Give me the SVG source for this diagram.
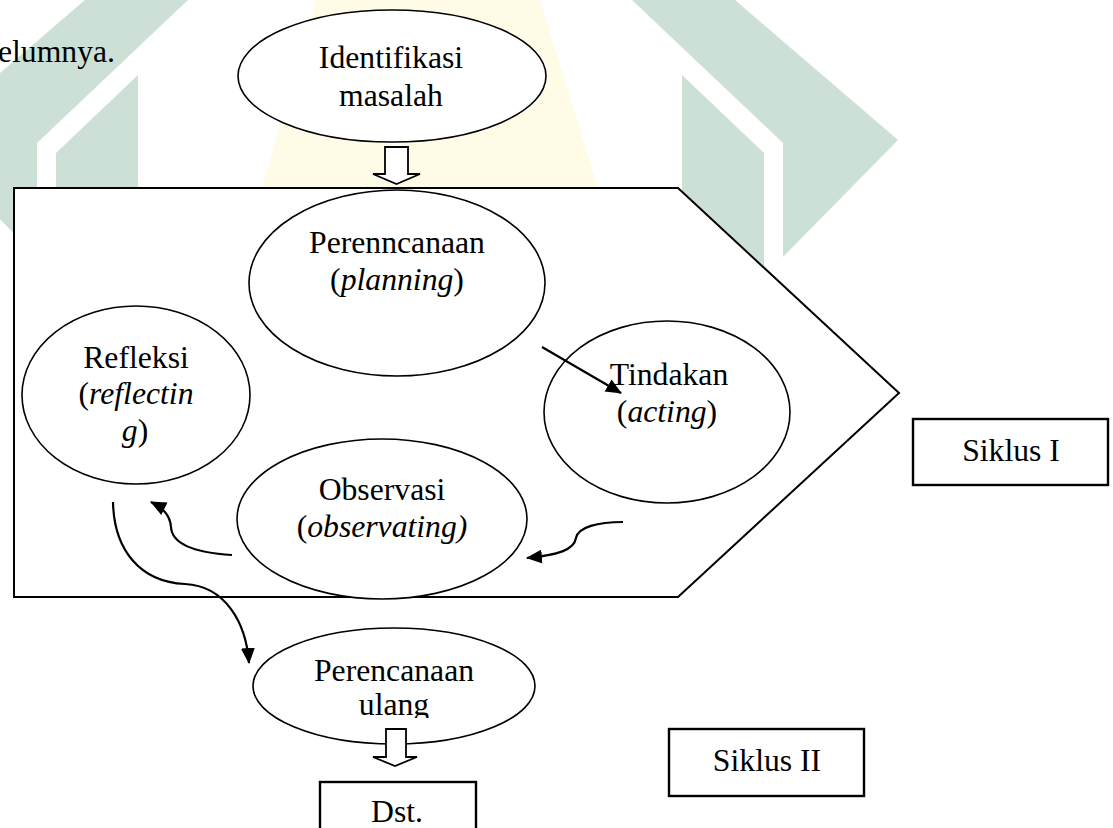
<svg xmlns="http://www.w3.org/2000/svg" width="1113" height="828" viewBox="0 0 1113 828">
<style>
.t{font-family:"Liberation Serif","Times New Roman",serif;font-size:31.7px;fill:#000;text-anchor:middle}
.i{font-style:italic}
.n{fill:#fff;stroke:#000;stroke-width:1.6}
.b{fill:#fff;stroke:#000;stroke-width:2.4}
.f{fill:#fff;stroke:#000;stroke-width:2}
.c{fill:none;stroke:#000;stroke-width:2.2}
.h{fill:#fff;stroke:#000;stroke-width:1.8}
.g{fill:#cde0d5}
.y{fill:#fefbe6}
</style>
<defs>
<marker id="ah" markerUnits="userSpaceOnUse" markerWidth="16" markerHeight="14" refX="15" refY="7" orient="auto" viewBox="0 0 16 14"><path d="M0,0 L16,7 L0,14 z" fill="#000"/></marker>
<clipPath id="clipUlang"><rect x="0" y="600" width="1113" height="118"/></clipPath>
</defs>
<rect width="1113" height="828" fill="#fff"/>
<g id="watermark">
<polygon class="y" points="316,0 540,0 598,188 262,188"/>
<polygon class="g" points="632,0 735,0 898,140 783,257 783,143"/>
<polygon class="g" points="682,75 764,153 764,320 682,240"/>
<polygon class="g" points="188,0 85,0 -78,140 37,257 37,143"/>
<polygon class="g" points="138,75 56,153 56,320 138,240"/>
</g>
<text class="t" x="-2" y="62" style="text-anchor:start">elumnya.</text>
<g id="siklus1-frame">
<polygon class="f" points="14,188 678,188 899,393 678,597 14,597"/>
</g>
<g id="identifikasi">
<ellipse class="n" cx="392" cy="76" rx="154" ry="66"/>
<text class="t" x="391" y="68">Identifikasi</text>
<text class="t" x="391" y="106">masalah</text>
</g>
<g id="perencanaan">
<ellipse class="n" cx="397" cy="283" rx="148" ry="93"/>
<text class="t" x="397" y="253">Perenncanaan</text>
<text class="t" x="397" y="290">(<tspan class="i">planning</tspan>)</text>
</g>
<g id="refleksi">
<ellipse class="n" cx="136" cy="395" rx="114" ry="89"/>
<text class="t" x="136" y="368">Refleksi</text>
<text class="t" x="136" y="404">(<tspan class="i">reflectin</tspan></text>
<text class="t" x="135" y="441"><tspan class="i">g</tspan>)</text>
</g>
<g id="tindakan">
<ellipse class="n" cx="667" cy="412" rx="123" ry="91"/>
<text class="t" x="669" y="385">Tindakan</text>
<text class="t" x="667" y="422">(<tspan class="i">acting</tspan>)</text>
</g>
<g id="observasi">
<ellipse class="n" cx="382" cy="519" rx="145" ry="80"/>
<text class="t" x="382" y="500">Observasi</text>
<text class="t" x="382" y="537">(<tspan class="i">observating)</tspan></text>
</g>
<g id="perencanaan-ulang">
<ellipse class="n" cx="394" cy="686" rx="141" ry="58"/>
<text class="t" x="394" y="681">Perencanaan</text>
<text class="t" x="394" y="715" clip-path="url(#clipUlang)">ulang</text>
</g>
<g id="siklus1">
<rect class="b" x="913" y="419" width="195" height="66"/>
<text class="t" x="1011" y="461">Siklus I</text>
</g>
<g id="siklus2">
<rect class="b" x="669" y="729" width="195" height="67"/>
<text class="t" x="767" y="771">Siklus II</text>
</g>
<g id="dst">
<rect class="b" x="320" y="782" width="156" height="70"/>
<text class="t" x="397" y="822">Dst.</text>
</g>
<g id="connectors">
<polygon class="h" points="385,147 408,147 408,174 420,174 396.5,184 373,174 385,174"/>
<polygon class="h" points="386,729 406,729 406,757 417,757 395,766 373,757 386,757"/>
<line class="c" x1="542" y1="347" x2="621" y2="393" marker-end="url(#ah)"/>
<path class="c" d="M623,522 C598,522 578,527 576,538 C574,550 558,555 527,558" marker-end="url(#ah)"/>
<path class="c" d="M232,555 C200,553 172,546 171,527 C170,515 163,508 151,502" marker-end="url(#ah)"/>
<path class="c" d="M113,502 C114,550 140,582 185,584 C225,586 246,622 249,663" marker-end="url(#ah)"/>
</g>
</svg>
